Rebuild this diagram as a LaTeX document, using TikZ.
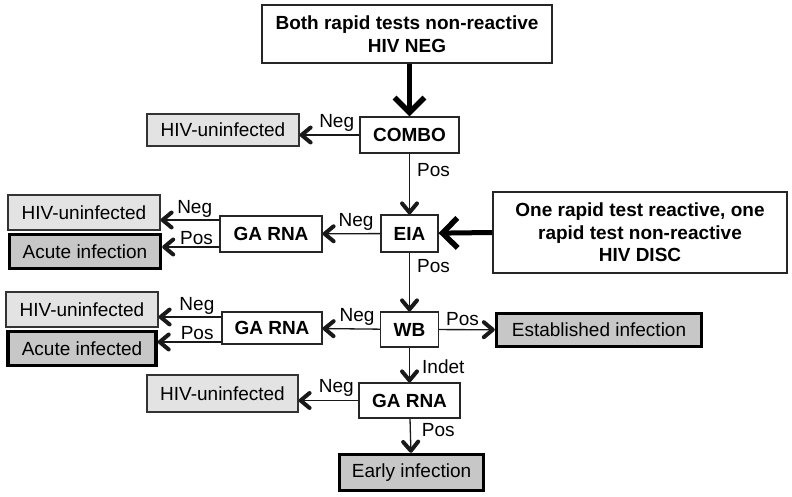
\documentclass[tikz,border=0pt]{standalone}
\usepackage{fontspec}
\setmainfont{Liberation Sans}
\usepackage{tikz}
\usetikzlibrary{arrows.meta}
\usetikzlibrary{positioning}

\newcommand{\flowfont}{\fontsize{19}{22.5}\selectfont}

\begin{document}
\begin{tikzpicture}[x=1pt,y=-1pt,
    test/.style={rectangle,draw=black!85,line width=1.2pt,fill=white,inner sep=0pt,
        minimum height=36pt,font=\flowfont\bfseries},
    heading/.style={test,align=center},
    uninf/.style={rectangle,draw=black!80,line width=1.2pt,fill=black!11,inner sep=0pt,
        minimum width=152pt,minimum height=35pt,font=\flowfont},
    infected/.style={rectangle,draw=black,line width=3.4pt,fill=black!22,inner sep=0pt,
        minimum height=34pt,font=\flowfont},
    arr/.style={draw=black!90,line width=1.3pt,-{Straight Barb[length=9pt,width=15pt,line width=4pt,round]}},
    bigarr/.style={draw=black,line width=5pt,-{Straight Barb[length=15pt,width=30pt,line width=5.5pt]}},
    lbl/.style={inner sep=1pt,font=\flowfont}]
    \useasboundingbox (0,0) rectangle (792,497);

    % start boxes
    \node[heading,minimum width=290pt,minimum height=58pt] (neg) at (407,34) {Both rapid tests non-reactive\\HIV NEG};
    \node[heading,minimum width=294pt,minimum height=81pt] (disc) at (640,232.5) {One rapid test reactive, one\\rapid test non-reactive\\HIV DISC};

    % tests on the spine
    \node[test,minimum width=99pt] (combo) at (409.5,135) {COMBO};
    \node[test,minimum width=57pt,minimum height=37pt] (eia) at (409.5,233.5) {EIA};
    \node[test,minimum width=58pt,minimum height=35pt] (wb) at (409.5,329.5) {WB};
    \node[test,minimum width=101pt,minimum height=35pt] (ga3) at (409.5,400.5) {GA RNA};
    \node[test,minimum width=102pt] (ga1) at (271,234) {GA RNA};
    \node[test,minimum width=100pt,minimum height=32pt] (ga2) at (272,328) {GA RNA};

    % outcomes
    \node[uninf,minimum height=32pt] (un1) at (223,130) {HIV-uninfected};
    \node[uninf] (un2) at (84,212.5) {HIV-uninfected};
    \node[uninf] (un3) at (82,309.5) {HIV-uninfected};
    \node[uninf,minimum width=151pt,minimum height=37pt] (un4) at (222.5,393.5) {HIV-uninfected};
    \node[infected,minimum width=151pt] (acute1) at (85,251.5) {Acute infection};
    \node[infected,minimum width=148pt] (acute2) at (82,348.5) {Acute infected};
    \node[infected,minimum width=205pt,minimum height=33pt] (est) at (599,330) {Established infection};
    \node[infected,minimum width=144pt,minimum height=36pt] (early) at (411.5,472.5) {Early infection};

    % connectors
    \draw[bigarr] (neg.south -| combo) -- (combo);
    \draw[bigarr] (disc.west) -- (eia);
    \draw[arr] (combo.west) -- (combo.west -| un1.east) node[lbl,above=2pt,pos=0.38] {Neg};
    \draw[arr] (combo) -- (eia) node[lbl,right=6pt,pos=0.27] {Pos};
    \draw[arr] (eia) -- (ga1) node[lbl,above=2pt,pos=0.42] {Neg};
    \draw[arr] ([yshift=14pt]ga1.west) -- ([yshift=14pt]ga1.west -| un2.east) node[lbl,above=1pt,pos=0.42] {Neg};
    \draw[arr] ([yshift=-13pt]ga1.west) -- ([yshift=-13pt]ga1.west -| acute1.east) node[lbl,above=1pt,pos=0.4] {Pos};
    \draw[arr] (eia) -- (wb) node[lbl,right=6pt,pos=0.23] {Pos};
    \draw[arr] (wb) -- (ga2) node[lbl,above=2pt,pos=0.4] {Neg};
    \draw[arr] (wb) -- (est) node[lbl,above=2pt,pos=0.42] {Pos};
    \draw[arr] ([yshift=11pt]ga2.west) -- ([yshift=11pt]ga2.west -| un3.east) node[lbl,above=1pt,pos=0.39] {Neg};
    \draw[arr] ([yshift=-14pt]ga2.west) -- ([yshift=-14pt]ga2.west -| acute2.east) node[lbl,above=1pt,pos=0.38] {Pos};
    \draw[arr] (wb) -- (ga3) node[lbl,right=11pt,pos=0.55] {Indet};
    \draw[arr] (ga3.west) -- (ga3.west -| un4.east) node[lbl,above=2pt,pos=0.37] {Neg};
    \draw[arr] (ga3) -- (early) node[lbl,right=10pt,pos=0.34] {Pos};
\end{tikzpicture}
\end{document}
